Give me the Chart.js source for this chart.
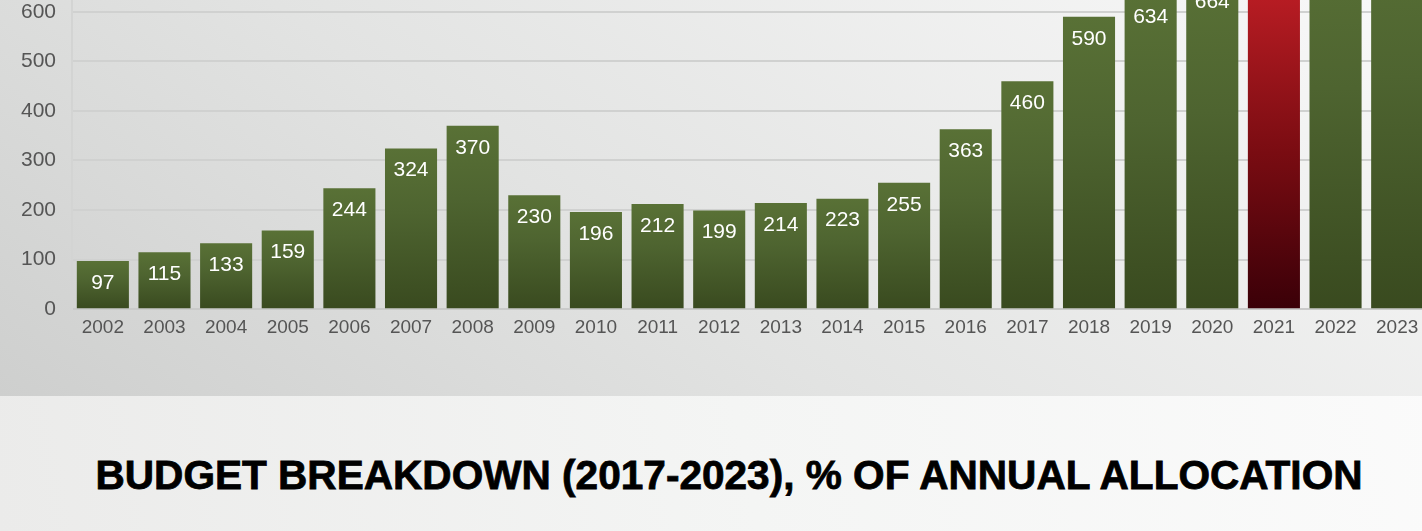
<!DOCTYPE html>
<html>
<head>
<meta charset="utf-8">
<script src="https://cdn.jsdelivr.net/npm/chart.js@4.4.1/dist/chart.umd.min.js"></script>
<style>
  html, body {
    margin: 0;
    padding: 0;
    width: 1422px;
    height: 531px;
    overflow: hidden;
  }
  body {
    position: relative;
    background: linear-gradient(80deg, #ebebea 0%, #f4f5f4 50%, #fbfbfb 100%);
  }
  #bgTop {
    position: absolute;
    left: 0;
    top: 0;
    width: 1422px;
    height: 396px;
    background: linear-gradient(35deg, #cecfce 0%, #e2e3e2 42%, #f9f9f9 100%);
  }
  #wrap {
    position: absolute;
    left: 0;
    top: -116px;
    width: 1458px;
    height: 476px;
  }
  #titulo {
    position: absolute;
    left: 0;
    top: 451px;
    width: 1458px;
    text-align: center;
    font-family: "Liberation Sans", Arial, sans-serif;
    font-weight: bold;
    font-size: 40.6px;
    line-height: 48px;
    color: #000;
    -webkit-text-stroke: 0.8px #000;
    white-space: nowrap;
  }
</style>
</head>
<body>
<div id="bgTop"></div>
<div id="wrap"><canvas id="graficoOrcamento"></canvas></div>
<div id="titulo"></div>
<script>
var anos = ["2002", "2003", "2004", "2005", "2006", "2007", "2008", "2009", "2010", "2011", "2012",
  "2013", "2014", "2015", "2016", "2017", "2018", "2019", "2020", "2021", "2022", "2023"];
var valores = [97, 115, 133, 159, 244, 324, 370, 230, 196, 212, 199,
  214, 223, 255, 363, 460, 590, 634, 664, 705, 742, 781];
var anoDestaque = "2021";
var ticksY = [0, 100, 200, 300, 400, 500, 600, 700, 800];
var titulo = "BUDGET BREAKDOWN (2017-2023), % OF ANNUAL ALLOCATION";

document.addEventListener("DOMContentLoaded", function () {
  document.getElementById("titulo").textContent = titulo;
  var ctx = document.getElementById("graficoOrcamento").getContext("2d");

  function corBarra(context) {
    var chart = context.chart;
    var destaque = anos[context.dataIndex] === anoDestaque;
    if (!chart.chartArea || !chart.scales.y) {
      return destaque ? "#c41f26" : "#56703a";
    }
    var y = chart.scales.y;
    var topo = y.getPixelForValue(valores[context.dataIndex]);
    var base = y.getPixelForValue(0);
    var g = chart.ctx.createLinearGradient(0, base, 0, topo);
    if (destaque) {
      g.addColorStop(0, "#3a0008");
      g.addColorStop(0.45, "#7a0c12");
      g.addColorStop(1, "#c62027");
    } else {
      g.addColorStop(0, "#394a1f");
      g.addColorStop(0.6, "#4e6430");
      g.addColorStop(1, "#597136");
    }
    return g;
  }

  // valores dentro da barra, perto do topo
  var rotulos = {
    id: "rotulos",
    afterDatasetsDraw: function (chart) {
      var c = chart.ctx;
      var meta = chart.getDatasetMeta(0);
      c.save();
      c.fillStyle = "#ffffff";
      c.font = "21px 'Liberation Sans', Arial, sans-serif";
      c.textAlign = "center";
      c.textBaseline = "middle";
      meta.data.forEach(function (bar, i) {
        c.fillText(String(valores[i]), bar.x, bar.y + 22);
      });
      c.restore();
    },
  };

  new Chart(ctx, {
    type: "bar",
    data: {
      labels: anos,
      datasets: [
        {
          label: "Budget",
          data: valores,
          backgroundColor: corBarra,
          borderWidth: 0,
          barPercentage: 0.845,
          categoryPercentage: 1,
        },
      ],
    },
    plugins: [rotulos],
    options: {
      responsive: true,
      maintainAspectRatio: false,
      animation: false,
      layout: {
        padding: { top: 0, left: 5, right: 30, bottom: 14 },
      },
      plugins: {
        legend: { display: false },
        tooltip: { enabled: false },
      },
      scales: {
        x: {
          grid: { display: false, drawTicks: false },
          border: { display: true, color: "#c9cac9", width: 2 },
          ticks: {
            color: "#555555",
            padding: 7,
            font: { family: "'Liberation Sans', Arial, sans-serif", size: 19 },
          },
        },
        y: {
          min: 0,
          max: 800,
          afterBuildTicks: function (axis) {
            axis.ticks = ticksY.map(function (v) { return { value: v }; });
          },
          grid: { color: "#d0d1d0", lineWidth: 2, drawTicks: false },
          border: { display: true, color: "#d3d4d3", width: 2 },
          ticks: {
            color: "#555555",
            padding: 16,
            font: { family: "'Liberation Sans', Arial, sans-serif", size: 21 },
          },
        },
      },
    },
  });
});
</script>
</body>
</html>
